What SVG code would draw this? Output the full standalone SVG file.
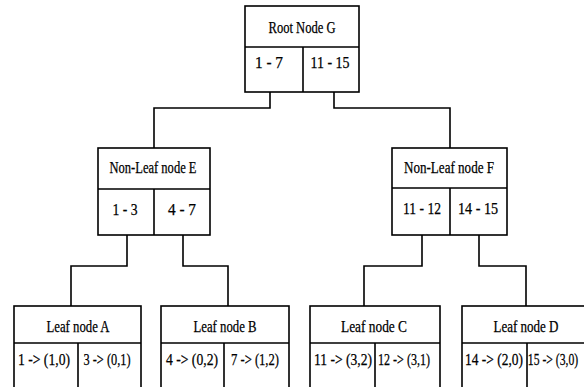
<svg xmlns="http://www.w3.org/2000/svg" width="584" height="387" viewBox="0 0 584 387">
<style>
.box{fill:#fff;stroke:#000;stroke-width:1.6}
.ln{fill:none;stroke:#000;stroke-width:1.6}
text{font-family:"Liberation Serif","Times New Roman",serif;font-size:16px;fill:#000;stroke:#000;stroke-width:0.25;text-anchor:middle}
</style>
<rect width="584" height="387" fill="#fff"/>
<g id="connectors" class="ln">
<path d="M270 83V108H154V148"/>
<path d="M334 83V108H450V148"/>
<path d="M127 226V266H71V306"/>
<path d="M183 226V266H228V306"/>
<path d="M422 226V266H364V306"/>
<path d="M479 226V266H526V306"/>
</g>
<g id="nodeG">
<rect class="box" x="245" y="6" width="114" height="86"/>
<path class="ln" d="M245 47H359M303 47V92"/>
<text x="302" y="33" textLength="67" lengthAdjust="spacingAndGlyphs">Root Node G</text>
<text x="269" y="68" textLength="28" lengthAdjust="spacingAndGlyphs">1 - 7</text>
<text x="330" y="68" textLength="39" lengthAdjust="spacingAndGlyphs">11 - 15</text>
</g>
<g id="nodeE">
<rect class="box" x="98" y="148" width="112" height="87"/>
<path class="ln" d="M98 189H210M154 189V235"/>
<text x="153" y="173" textLength="87" lengthAdjust="spacingAndGlyphs">Non-Leaf node E</text>
<text x="125" y="215" textLength="25" lengthAdjust="spacingAndGlyphs">1 - 3</text>
<text x="182" y="215" textLength="28" lengthAdjust="spacingAndGlyphs">4 - 7</text>
</g>
<g id="nodeF">
<rect class="box" x="392" y="148" width="115" height="87"/>
<path class="ln" d="M392 188H507M450 188V235"/>
<text x="449" y="173" textLength="90" lengthAdjust="spacingAndGlyphs">Non-Leaf node F</text>
<text x="422" y="214" textLength="38" lengthAdjust="spacingAndGlyphs">11 - 12</text>
<text x="478" y="214" textLength="40" lengthAdjust="spacingAndGlyphs">14 - 15</text>
</g>
<g id="leafA">
<rect class="box" x="14" y="306" width="127" height="90"/>
<path class="ln" d="M14 343H141M78 343V396"/>
<text x="78" y="332" textLength="63" lengthAdjust="spacingAndGlyphs">Leaf node A</text>
<text x="44" y="365" textLength="52" lengthAdjust="spacingAndGlyphs">1 -&gt; (1,0)</text>
<text x="107" y="365" textLength="47" lengthAdjust="spacingAndGlyphs">3 -&gt; (0,1)</text>
</g>
<g id="leafB">
<rect class="box" x="161" y="306" width="128" height="90"/>
<path class="ln" d="M161 343H289M224 343V396"/>
<text x="225" y="332" textLength="63" lengthAdjust="spacingAndGlyphs">Leaf node B</text>
<text x="192" y="365" textLength="52" lengthAdjust="spacingAndGlyphs">4 -&gt; (0,2)</text>
<text x="255" y="365" textLength="48" lengthAdjust="spacingAndGlyphs">7 -&gt; (1,2)</text>
</g>
<g id="leafC">
<rect class="box" x="310" y="306" width="130" height="90"/>
<path class="ln" d="M310 343H440M375 343V396"/>
<text x="374" y="332" textLength="66" lengthAdjust="spacingAndGlyphs">Leaf node C</text>
<text x="343" y="365" textLength="58" lengthAdjust="spacingAndGlyphs">11 -&gt; (3,2)</text>
<text x="404" y="365" textLength="52" lengthAdjust="spacingAndGlyphs">12 -&gt; (3,1)</text>
</g>
<g id="leafD">
<rect class="box" x="462" y="306" width="130" height="90"/>
<path class="ln" d="M462 343H592M527 343V396"/>
<text x="526" y="332" textLength="65" lengthAdjust="spacingAndGlyphs">Leaf node D</text>
<text transform="translate(494 365) scale(0.84 1)">14 -&gt; (2,0)</text>
<text transform="translate(553 365) scale(0.73 1)">15 -&gt; (3,0)</text>
</g>
</svg>
